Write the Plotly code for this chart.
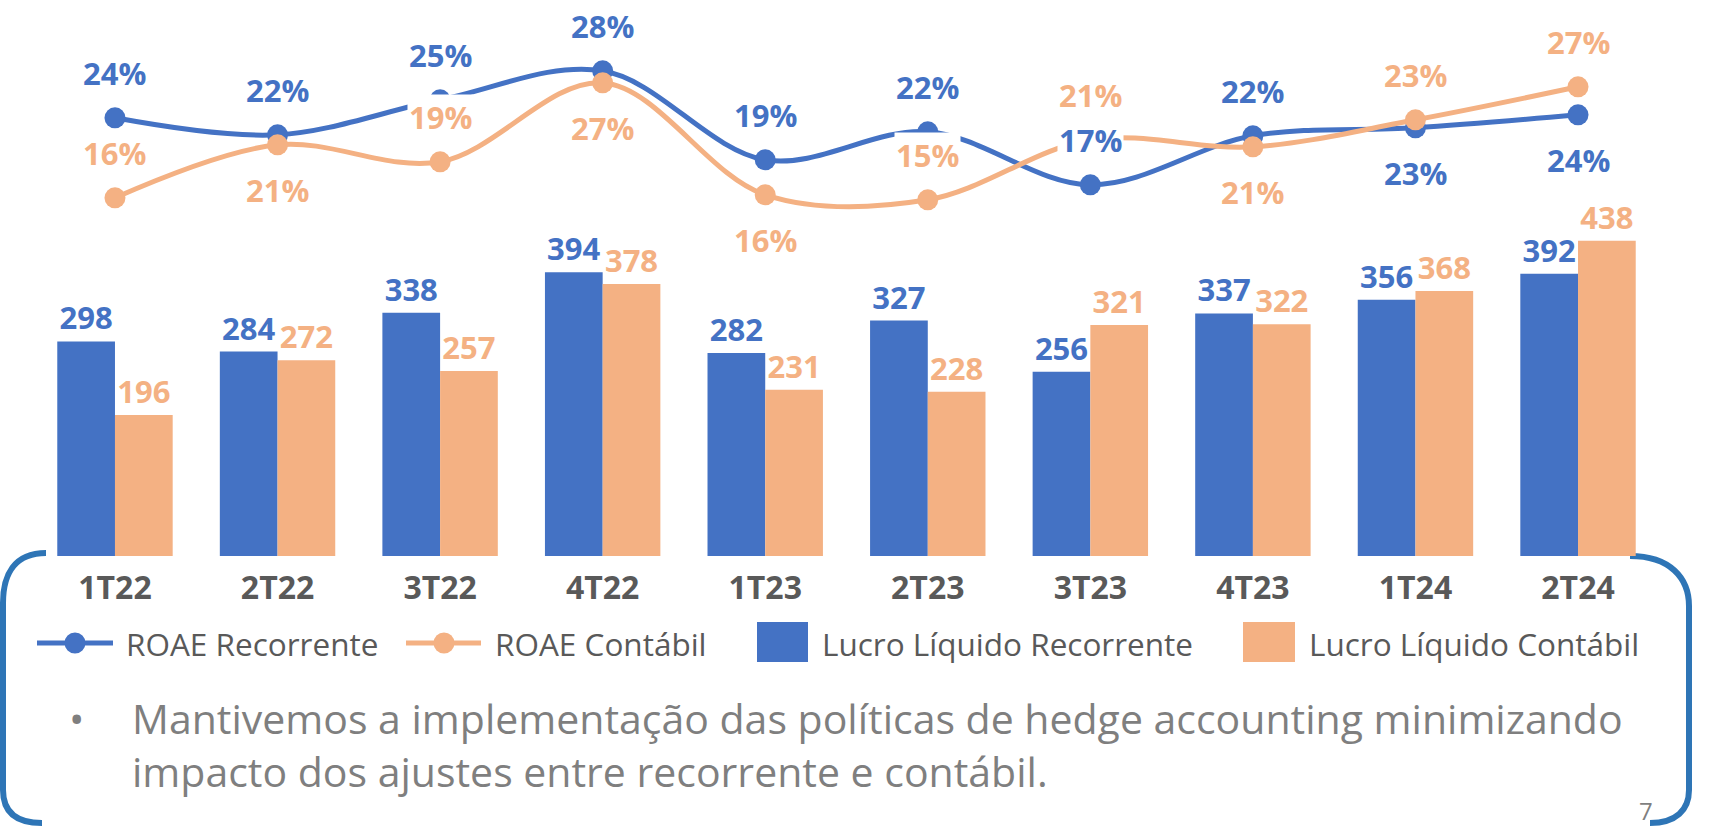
import plotly.graph_objects as go

W, H = 1723, 826

# ---------------- data ----------------
quarters = ["1T22", "2T22", "3T22", "4T22", "1T23", "2T23", "3T23", "4T23", "1T24", "2T24"]
lucro_recorrente = [298, 284, 338, 394, 282, 327, 256, 337, 356, 392]
lucro_contabil = [196, 272, 257, 378, 231, 228, 321, 322, 368, 438]
roae_recorrente = [23.6, 21.9, 25.4, 28.3, 19.4, 22.2, 16.9, 21.8, 22.6, 23.9]
roae_contabil = [15.6, 20.9, 19.2, 27.1, 15.9, 15.4, 21.4, 20.7, 23.4, 26.7]
series_names = ["ROAE Recorrente", "ROAE Contábil", "Lucro Líquido Recorrente", "Lucro Líquido Contábil"]
note_lines = [
    "Mantivemos a implementação das políticas de hedge accounting minimizando",
    "impacto dos ajustes entre recorrente e contábil.",
]
page_number = "7"

# ---------------- styles ----------------
BLUE = "#4472C4"
ORANGE = "#F4B183"
FRAME = "#2E75B6"
DARK = "#595959"
GREY = "#7F7F7F"
FONT = "Open Sans"

# label placement for the ROAE labels (+1 above the point, -1 below)
rec_side = [1, 1, 1, 1, 1, 1, 1, 1, -1, -1]
cont_side = [1, -1, 1, -1, -1, 1, 1, -1, 1, 1]
LABEL_OFFSET = 45


def px(x):
    return x / W


def py(y):
    return 1 - y / H


# plot geometry (pixels)
X_LEFT, X_RIGHT = 33.7, 1659.3
BASE_Y = 556.0
BAR_SCALE = 0.7199          # px per unit of profit
ROAE_ZERO = 353.8           # px where ROAE = 0
ROAE_SCALE = 10.0           # px per percentage point

bar_top = BASE_Y / BAR_SCALE
roae_top = ROAE_ZERO / ROAE_SCALE
roae_bottom = (ROAE_ZERO - BASE_Y) / ROAE_SCALE

fig = go.Figure()

fig.add_trace(go.Bar(
    x=quarters, y=lucro_recorrente, name=series_names[2],
    marker=dict(color=BLUE, line=dict(width=0)),
    texttemplate="%{y}", textposition="outside", constraintext="none", cliponaxis=False,
    textfont=dict(family=FONT, size=31, color=BLUE, weight="bold"),
    showlegend=False,
))
fig.add_trace(go.Bar(
    x=quarters, y=lucro_contabil, name=series_names[3],
    marker=dict(color=ORANGE, line=dict(width=0)),
    texttemplate="%{y}", textposition="outside", constraintext="none", cliponaxis=False,
    textfont=dict(family=FONT, size=31, color=ORANGE, weight="bold"),
    showlegend=False,
))
fig.add_trace(go.Scatter(
    x=quarters, y=roae_recorrente, name=series_names[0], yaxis="y2",
    mode="lines+markers", line=dict(color=BLUE, width=5, shape="spline", smoothing=1),
    marker=dict(color=BLUE, size=21), cliponaxis=False, showlegend=False,
))
fig.add_trace(go.Scatter(
    x=quarters, y=roae_contabil, name=series_names[1], yaxis="y2",
    mode="lines+markers", line=dict(color=ORANGE, width=5, shape="spline", smoothing=1),
    marker=dict(color=ORANGE, size=21), cliponaxis=False, showlegend=False,
))

annotations = []
for vals, sides, color in ((roae_recorrente, rec_side, BLUE), (roae_contabil, cont_side, ORANGE)):
    for q, v, s in zip(quarters, vals, sides):
        annotations.append(dict(
            x=q, y=v, xref="x", yref="y2", text=f"{round(v):d}%", showarrow=False,
            yshift=s * LABEL_OFFSET, bgcolor="white", borderpad=1,
            font=dict(family=FONT, size=31, color=color, weight="bold"),
        ))

# manual legend
LEG_Y = 643
shapes = []
for (x0, x1, cx), color in (((37, 113, 75), BLUE), ((406, 481, 444), ORANGE)):
    shapes.append(dict(type="line", xref="paper", yref="paper", x0=px(x0), x1=px(x1),
                       y0=py(LEG_Y), y1=py(LEG_Y), line=dict(color=color, width=5)))
    shapes.append(dict(type="circle", xref="paper", yref="paper", x0=px(cx - 10.5), x1=px(cx + 10.5),
                       y0=py(LEG_Y - 10.5), y1=py(LEG_Y + 10.5), fillcolor=color, line=dict(width=0)))
for (x0, x1), color in (((757, 808), BLUE), ((1243, 1295), ORANGE)):
    shapes.append(dict(type="rect", xref="paper", yref="paper", x0=px(x0), x1=px(x1),
                       y0=py(662), y1=py(622), fillcolor=color, line=dict(width=0)))
for name, xl in zip(series_names, (124, 493, 820, 1307)):
    annotations.append(dict(x=px(xl), y=py(LEG_Y), xref="paper", yref="paper", text=name,
                            showarrow=False, xanchor="left", yanchor="middle",
                            font=dict(family=FONT, size=31.5, color=DARK)))

# bracket frame
left = (f"M {px(46)},{py(553)} C {px(14)},{py(553)} {px(3)},{py(575)} {px(3)},{py(603)} "
        f"L {px(3)},{py(790)} C {px(3)},{py(812)} {px(16)},{py(823)} {px(42)},{py(823)}")
right = (f"M {px(1630)},{py(556)} C {px(1670)},{py(556)} {px(1689)},{py(578)} {px(1689)},{py(606)} "
         f"L {px(1689)},{py(790)} C {px(1689)},{py(810)} {px(1676)},{py(823)} {px(1650)},{py(823)}")
for p in (left, right):
    shapes.append(dict(type="path", xref="paper", yref="paper", path=p, layer="below",
                       line=dict(color=FRAME, width=6)))

# note text (single paragraph, two lines)
annotations.append(dict(x=px(76), y=py(718), xref="paper", yref="paper", text="•", showarrow=False,
                        xanchor="center", yanchor="middle", font=dict(family=FONT, size=41, color=GREY)))
annotations.append(dict(x=px(130), y=py(744), xref="paper", yref="paper", text="<br>".join(note_lines),
                        showarrow=False, xanchor="left", yanchor="middle", align="left",
                        font=dict(family=FONT, size=41, color=GREY)))
annotations.append(dict(x=px(1646), y=py(810), xref="paper", yref="paper", text=page_number,
                        showarrow=False, xanchor="center", yanchor="middle",
                        font=dict(family=FONT, size=24, color=GREY)))

fig.update_layout(
    width=W, height=H, margin=dict(l=0, r=0, t=0, b=0),
    paper_bgcolor="white", plot_bgcolor="white",
    barmode="group", bargap=0.29, bargroupgap=0,
    showlegend=False,
    xaxis=dict(domain=[px(X_LEFT), px(X_RIGHT)], range=[-0.5, 9.5], type="category",
               showgrid=False, zeroline=False, showline=False, ticks="",
               tickfont=dict(family=FONT, size=32, color=DARK, weight="bold"),
               ticklabelstandoff=10),
    yaxis=dict(domain=[py(BASE_Y), 1], range=[0, bar_top], visible=False),
    yaxis2=dict(overlaying="y", range=[roae_bottom, roae_top], visible=False),
    shapes=shapes, annotations=annotations,
)

fig.write_html("out.html", config={"displayModeBar": False},
               post_script="document.body.style.margin='0';document.body.style.overflow='hidden';")
